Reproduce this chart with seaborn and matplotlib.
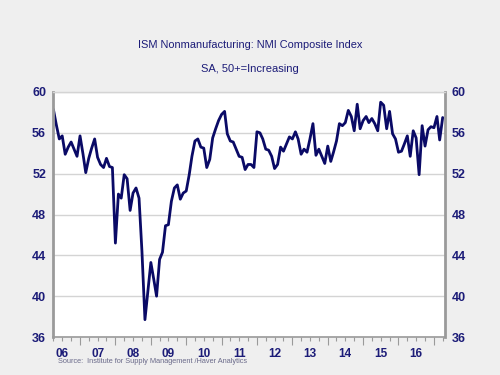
import numpy as np
import pandas as pd
import matplotlib
matplotlib.use("Agg")
import matplotlib.pyplot as plt
import matplotlib.dates as mdates
import seaborn as sns

# Monthly NMI composite, Apr 2006 - Apr 2017
start_month = "2006-04-01"
values = [
    58.3, 56.8, 55.4, 55.7, 53.9, 54.6, 55.1, 54.4, 53.7,            # Apr-Dec 06
    55.7, 53.9, 52.1, 53.5, 54.5, 55.4, 53.6, 52.9, 52.6, 53.5, 52.7, 52.6,  # 07
    45.2, 50.0, 49.6, 51.9, 51.5, 48.4, 50.1, 50.6, 49.6, 44.4, 37.7, 40.5,  # 08
    43.3, 41.6, 40.0, 43.6, 44.3, 46.9, 47.0, 49.3, 50.6, 50.9, 49.5, 50.1,  # 09
    50.3, 51.9, 53.7, 55.2, 55.4, 54.6, 54.5, 52.6, 53.4, 55.5, 56.4, 57.2,  # 10
    57.8, 58.1, 55.9, 55.2, 55.1, 54.4, 53.7, 53.6, 52.4, 52.9, 52.9, 52.6,  # 11
    56.1, 56.0, 55.4, 54.4, 54.3, 53.7, 52.5, 52.9, 54.6, 54.2, 54.9, 55.6,  # 12
    55.4, 56.1, 55.4, 53.9, 54.4, 54.1, 55.4, 56.9, 53.8, 54.4, 53.7, 53.0,  # 13
    54.7, 53.2, 54.1, 55.2, 56.9, 56.7, 57.0, 58.2, 57.6, 56.2, 58.8, 56.4,  # 14
    57.2, 57.6, 57.0, 57.4, 56.9, 56.2, 59.0, 58.7, 56.4, 58.1, 55.9, 55.4,  # 15
    54.1, 54.2, 54.9, 55.7, 53.7, 56.2, 55.5, 51.9, 56.7, 54.7, 56.3, 56.6,  # 16
    56.5, 57.6, 55.3, 57.5,                                           # 17
]
year_labels = ["06", "07", "08", "09", "10", "11", "12", "13", "14", "15", "16"]
y_ticks = [36, 40, 44, 48, 52, 56, 60]

dates = pd.date_range(start_month, periods=len(values), freq="MS")
df = pd.DataFrame({"date": dates, "value": values})

sns.set_theme(style="white")
plt.rcParams["font.family"] = ["Liberation Sans", "DejaVu Sans"]

navy = "#1c1c78"
fig = plt.figure(figsize=(5, 3.75), dpi=100, facecolor="#efefef")
ax = fig.add_axes([0.106, 0.1013, 0.784, 0.6534])
ax.set_facecolor("white")

sns.lineplot(data=df, x="date", y="value", ax=ax, color="#0a0a66", linewidth=2.0)

ax.set_ylim(36, 60)
ax.set_xlim(pd.Timestamp("2006-03-28"), pd.Timestamp("2017-04-25"))
ax.set_yticks(y_ticks)
ax.yaxis.grid(True, color="#d4d4d4", linewidth=1.0)
ax.set_axisbelow(True)
ax.set_xlabel("")
ax.set_ylabel("")

for s in ["left", "right"]:
    ax.spines[s].set_color("#9a9a9a")
    ax.spines[s].set_linewidth(2.0)
ax.spines["bottom"].set_color("#9a9a9a")
ax.spines["bottom"].set_linewidth(1.2)
ax.spines["top"].set_color("#d4d4d4")
ax.spines["top"].set_linewidth(1.0)

ax.tick_params(axis="y", length=0, labelsize=9, labelcolor=navy, pad=5)
for lab in ax.get_yticklabels():
    lab.set_fontweight("bold")

# x axis: year ticks long, quarter ticks short, labels mid-year
ax.xaxis.set_major_locator(mdates.YearLocator())
ax.xaxis.set_major_formatter(plt.NullFormatter())
ax.xaxis.set_minor_locator(mdates.MonthLocator(bymonth=[4, 7, 10]))
ax.tick_params(axis="x", which="major", length=6, width=0.8, color="#9a9a9a", direction="out", bottom=True)
ax.tick_params(axis="x", which="minor", length=3, width=0.8, color="#9a9a9a", direction="out", bottom=True)
for i, lab in enumerate(year_labels):
    yr = 2006 + i
    ax.text(pd.Timestamp(f"{yr}-07-01"), -0.043, lab, transform=ax.get_xaxis_transform(),
            ha="center", va="top", fontsize=8.5, fontweight="bold", color=navy)

ax2 = ax.twinx()
ax2.set_ylim(36, 60)
ax2.set_yticks(y_ticks)
ax2.tick_params(axis="y", length=0, labelsize=9, labelcolor=navy, pad=5)
for lab in ax2.get_yticklabels():
    lab.set_fontweight("bold")
for s in ax2.spines.values():
    s.set_visible(False)
ax2.grid(False)

fig.text(0.5, 0.88, "ISM Nonmanufacturing: NMI Composite Index", ha="center", va="center",
         fontsize=7.9, color=navy)
fig.text(0.5, 0.815, "SA, 50+=Increasing", ha="center", va="center",
         fontsize=8, color=navy)
fig.text(0.116, 0.035, "Source:  Institute for Supply Management /Haver Analytics", ha="left",
         va="center", fontsize=5.3, color="#6a6a8a")

fig.savefig("out.png", dpi=100, facecolor=fig.get_facecolor())
